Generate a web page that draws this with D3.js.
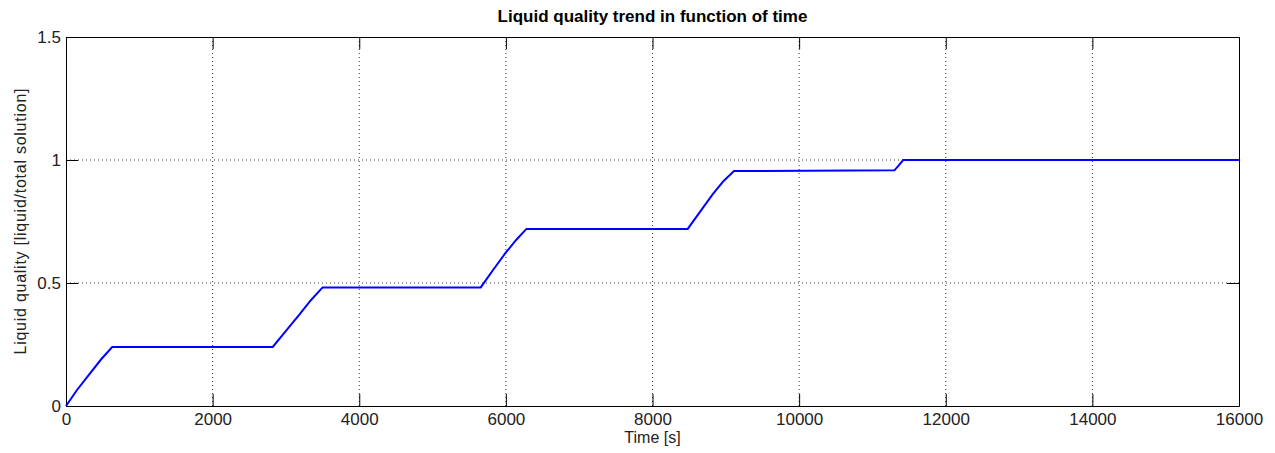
<!DOCTYPE html>
<html>
<head>
<meta charset="utf-8">
<script src="https://cdn.jsdelivr.net/npm/d3@7"></script>
<style>
  body { margin: 0; background: #fff; }
  text { font-family: "Liberation Sans", Arial, sans-serif; }
</style>
</head>
<body>
<div id="chart"></div>
<script>
const timeValues = [0, 150, 320, 480, 630, 2820, 3000, 3180, 3340, 3500, 5657, 5830, 5990, 6140, 6280, 8480, 8650, 8820, 8970, 9112, 11300, 11350, 11420, 16000]
const qualityValues = [0, 0.065, 0.13, 0.19, 0.24, 0.24, 0.305, 0.37, 0.43, 0.482, 0.482, 0.555, 0.62, 0.675, 0.72, 0.72, 0.79, 0.86, 0.915, 0.955, 0.958, 0.975, 1.0, 1.0]
const xTicks = [0, 2000, 4000, 6000, 8000, 10000, 12000, 14000, 16000]
const yTicks = [0, 0.5, 1, 1.5]

const width = 1275
const height = 453
const margin = { top: 37, right: 36, bottom: 47, left: 66 }

const svg = d3.select("#chart").append("svg").attr("width", width).attr("height", height)

const xScale = d3.scaleLinear().domain([0, 16000]).range([margin.left, width - margin.right])
const yScale = d3.scaleLinear().domain([0, 1.5]).range([height - margin.bottom, margin.top])

// grid (dotted)
svg.append("g")
  .selectAll("line")
  .data(xTicks.slice(1, -1))
  .enter()
  .append("line")
  .attr("x1", (d) => xScale(d)).attr("x2", (d) => xScale(d))
  .attr("y1", yScale(0)).attr("y2", yScale(1.5))
  .attr("stroke", "#333").attr("stroke-width", 1).attr("stroke-dasharray", "1,3")

svg.append("g")
  .selectAll("line")
  .data(yTicks.slice(1, -1))
  .enter()
  .append("line")
  .attr("x1", xScale(0)).attr("x2", xScale(16000))
  .attr("y1", (d) => yScale(d)).attr("y2", (d) => yScale(d))
  .attr("stroke", "#333").attr("stroke-width", 1).attr("stroke-dasharray", "1,3")

// axes, ticks pointing inward, on all four sides
const tickLen = 12
const axB = svg.append("g").attr("transform", `translate(0,${yScale(0)})`)
  .call(d3.axisBottom(xScale).tickValues(xTicks).tickSizeInner(-tickLen).tickSizeOuter(0).tickPadding(7).tickFormat(d3.format("d")))
const axT = svg.append("g").attr("transform", `translate(0,${yScale(1.5)})`)
  .call(d3.axisTop(xScale).tickValues(xTicks).tickSizeInner(-tickLen).tickSizeOuter(0).tickFormat(""))
const axL = svg.append("g").attr("transform", `translate(${xScale(0)},0)`)
  .call(d3.axisLeft(yScale).tickValues(yTicks).tickSizeInner(-tickLen).tickSizeOuter(0).tickPadding(5).tickFormat((d) => String(d)))
const axR = svg.append("g").attr("transform", `translate(${xScale(16000)},0)`)
  .call(d3.axisRight(yScale).tickValues(yTicks).tickSizeInner(-tickLen).tickSizeOuter(0).tickFormat(""))

;[axB, axT, axL, axR].forEach((g) => {
  g.selectAll("path").attr("stroke", "#000").attr("stroke-width", 1)
  g.selectAll("line").attr("stroke", "#000")
  g.selectAll("text").attr("font-size", 17).attr("fill", "#222").style("font-family", "Liberation Sans, Arial, sans-serif")
})

// line
const line = d3.line()
  .x((d) => xScale(d[0]))
  .y((d) => yScale(d[1]))

svg.append("path")
  .datum(timeValues.map((t, i) => [t, qualityValues[i]]))
  .attr("fill", "none")
  .attr("stroke", "#0000ff")
  .attr("stroke-width", 2)
  .attr("d", line)

// labels
svg.append("text")
  .attr("x", (xScale(0) + xScale(16000)) / 2).attr("y", 22)
  .attr("text-anchor", "middle").attr("font-size", 17).attr("font-weight", "bold")
  .text("Liquid quality trend in function of time")

svg.append("text")
  .attr("x", (xScale(0) + xScale(16000)) / 2).attr("y", 443)
  .attr("text-anchor", "middle").attr("font-size", 16).attr("fill", "#222")
  .text("Time [s]")

svg.append("text")
  .attr("transform", `translate(26,${(yScale(0) + yScale(1.5)) / 2}) rotate(-90)`)
  .attr("text-anchor", "middle").attr("font-size", 16).attr("fill", "#222")
  .attr("textLength", 266).attr("lengthAdjust", "spacing")
  .text("Liquid quality [liquid/total solution]")
</script>
</body>
</html>
